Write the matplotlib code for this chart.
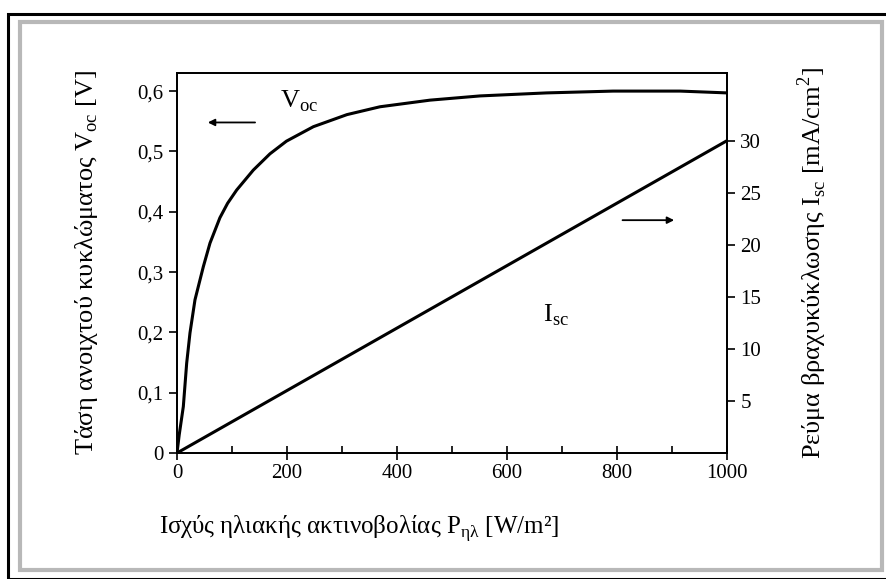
import numpy as np
import matplotlib.pyplot as plt
from matplotlib.patches import Rectangle

plt.rcParams['font.family'] = ['Liberation Serif', 'DejaVu Serif']

# δεδομένα (εκτίμηση από το διάγραμμα)
p_voc = [0, 4, 11.5, 17.6, 23.6, 32.7, 41.8, 47.9, 60, 78, 92, 108.5, 138.7, 169, 199,
         248, 309, 369, 460, 551, 672, 793, 915, 1000]
voc = [0, 0.03, 0.077, 0.149, 0.199, 0.254, 0.287, 0.309, 0.348, 0.390, 0.414, 0.436, 0.469,
       0.496, 0.517, 0.541, 0.561, 0.574, 0.585, 0.592, 0.597, 0.600, 0.600, 0.597]
p_isc = [0, 1000]
isc = [0, 30]

x_ticks = [0, 200, 400, 600, 800, 1000]
v_ticks = [0, 0.1, 0.2, 0.3, 0.4, 0.5, 0.6]
v_labels = ['0', '0,1', '0,2', '0,3', '0,4', '0,5', '0,6']
i_ticks = [5, 10, 15, 20, 25, 30]

fig = plt.figure(figsize=(8.86, 5.79), dpi=100)
# πλαίσιο εικόνας
fig.patches.append(Rectangle((8 / 886, 0), 1, 1 - 14 / 579, transform=fig.transFigure,
                             fill=False, edgecolor='black', linewidth=2.2, zorder=-10))
fig.patches.append(Rectangle((20 / 886, 1 - 570 / 579), 862 / 886, 548 / 579,
                             transform=fig.transFigure, facecolor='white',
                             edgecolor='#b8b8b8', linewidth=3, zorder=-9))

ax = fig.add_axes([177 / 886, 1 - 453 / 579, 550 / 886, 380 / 579])
ax2 = ax.twinx()
ax.patch.set_alpha(0)
ax2.patch.set_alpha(0)

ax.plot(p_voc, voc, color='black', lw=2.2, solid_joinstyle='round')
ax2.plot(p_isc, isc, color='black', lw=2.2)

ax.set_xlim(0, 1000)
ax.set_ylim(0, 0.63)
ax2.set_ylim(0, 36.5)

ax.set_xticks(x_ticks)
ax.set_xticks(range(100, 1000, 200), minor=True)
ax.set_yticks(v_ticks)
ax.set_yticklabels(v_labels)
ax2.set_yticks(i_ticks)

for a in (ax, ax2):
    a.tick_params(direction='out', length=6, width=1.2, labelsize=15)
    a.tick_params(which='minor', direction='in', length=5, width=1.2)
    for s in a.spines.values():
        s.set_linewidth(1.3)
ax.tick_params(axis='x', direction='inout', length=10, pad=3)

ax.set_xlabel('Ισχύς ηλιακής ακτινοβολίας P$_{\\mathregular{ηλ}}$ [W/m²]', fontsize=18)
ax.set_ylabel('Τάση ανοιχτού κυκλώματος V$_{\\mathregular{oc}}$ [V]', fontsize=19)
ax2.set_ylabel('Ρεύμα βραχυκύκλωσης I$_{\\mathregular{sc}}$ [mA/cm$^{\\mathregular{2}}$]', fontsize=19)
ax.xaxis.set_label_coords(0.331, -0.16)
ax.yaxis.set_label_coords(-0.14, 0.5)
ax2.yaxis.set_label_coords(1.124, 0.5)

ax.text(187, 0.573, 'V$_{\\mathregular{oc}}$', fontsize=19)
ax2.text(665, 12.6, 'I$_{\\mathregular{sc}}$', fontsize=19)
ax.annotate('', xy=(51, 0.548), xytext=(147, 0.548),
            arrowprops=dict(arrowstyle='-|>', color='black', lw=1.3))
ax.annotate('', xy=(909, 0.386), xytext=(805, 0.386),
            arrowprops=dict(arrowstyle='-|>', color='black', lw=1.3))

plt.savefig('out.png', dpi=100)
